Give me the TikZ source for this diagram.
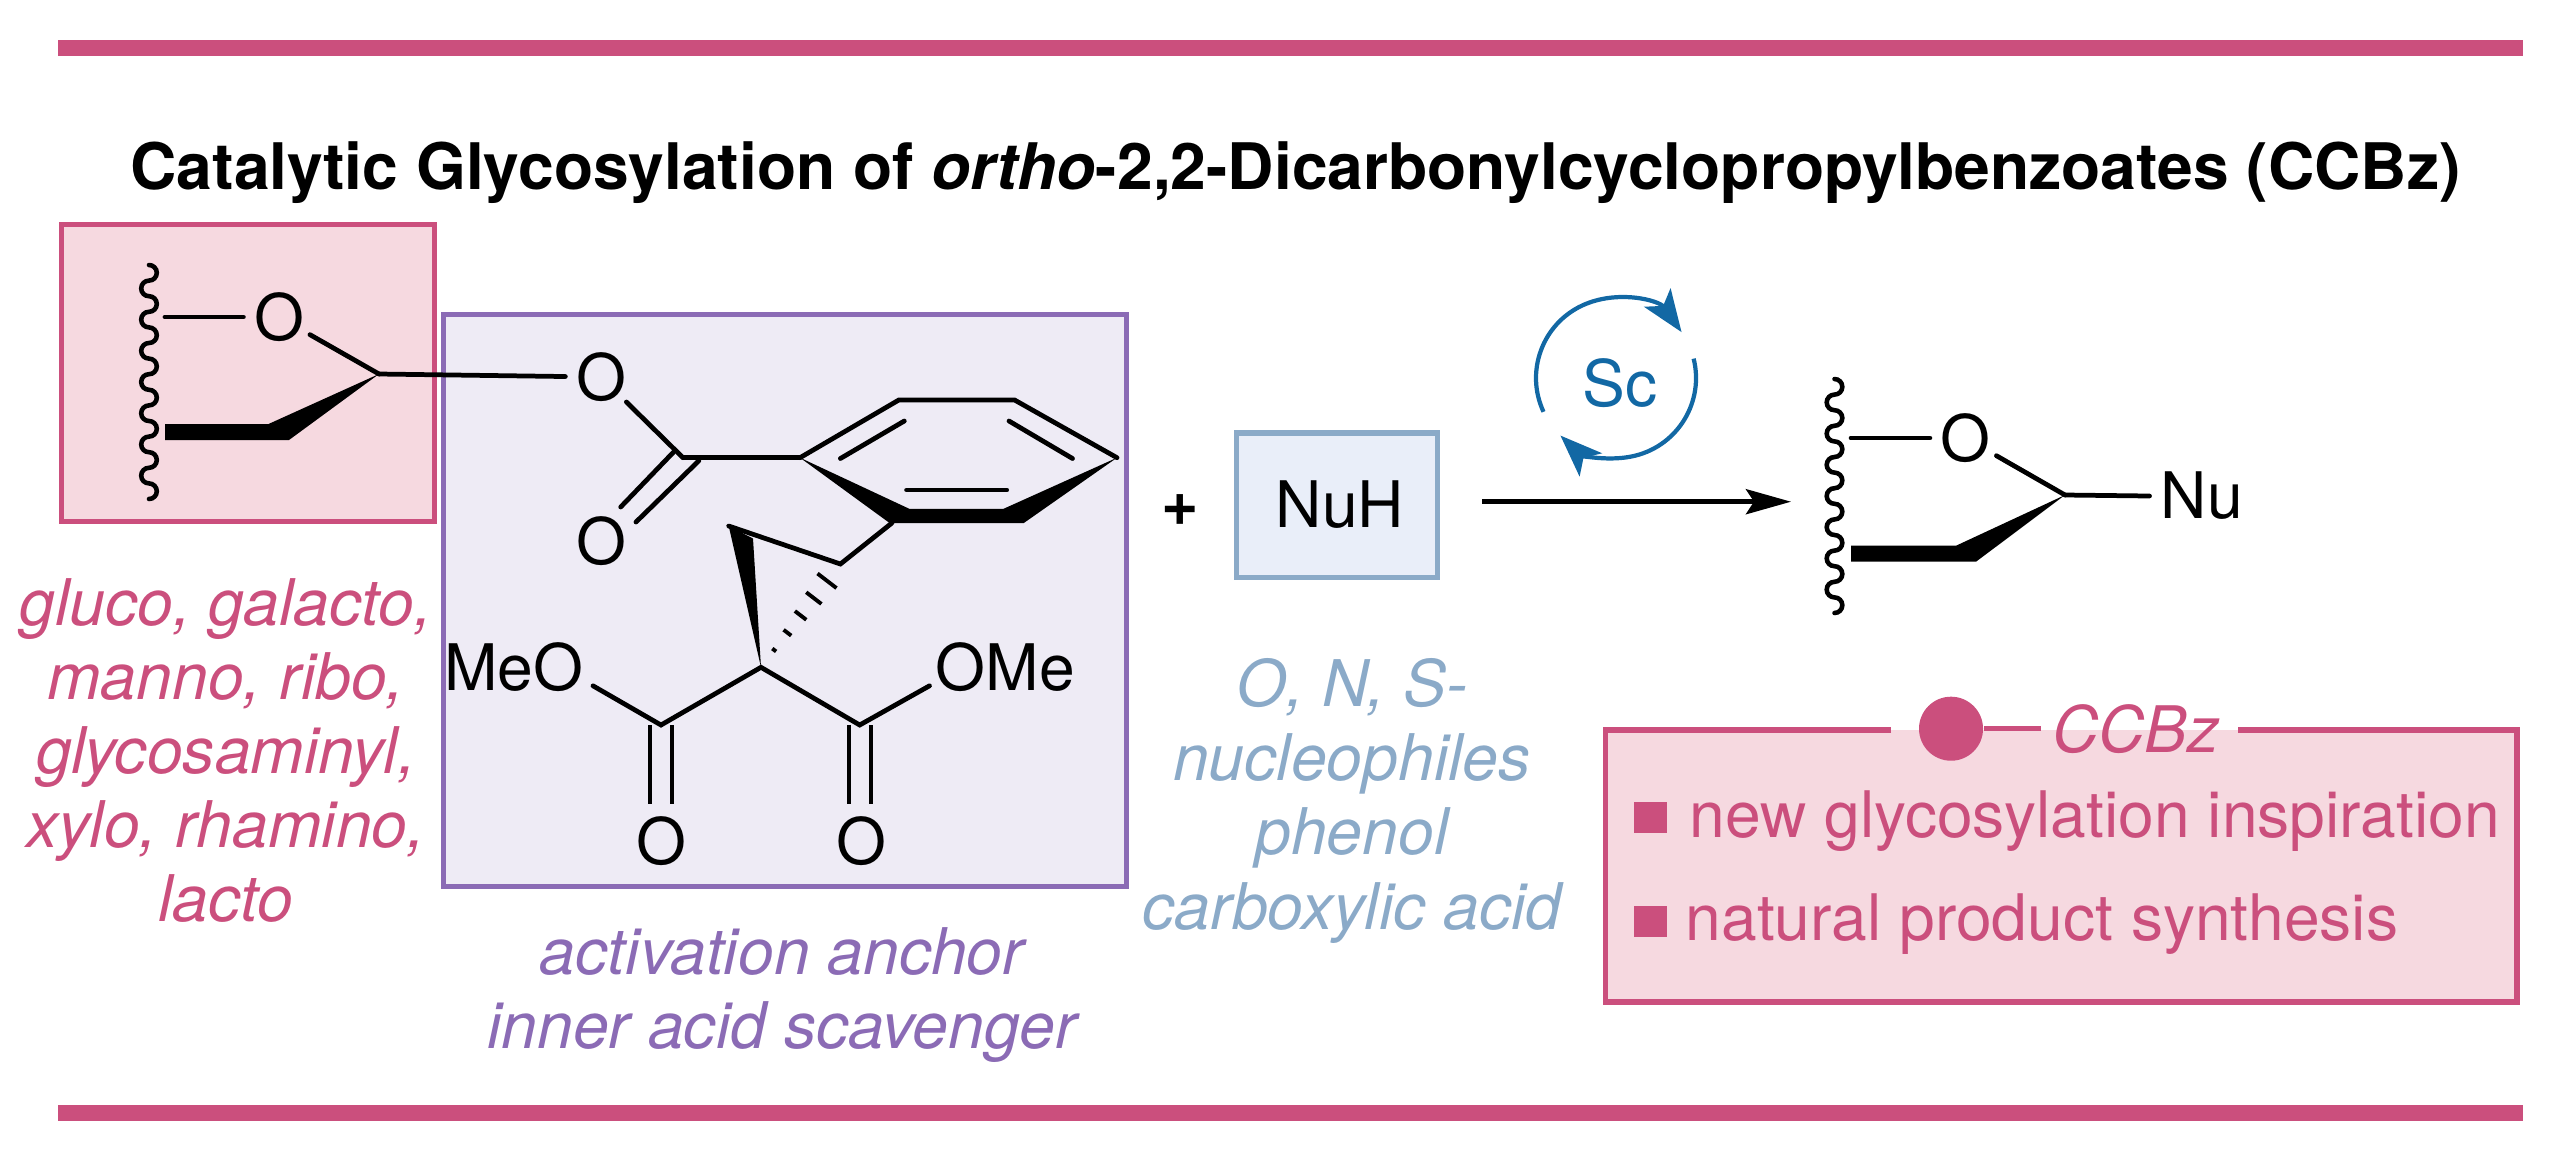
\documentclass[tikz,border=0pt]{standalone}
\usepackage{fontspec}
\setmainfont{TeX Gyre Heros}
\usetikzlibrary{arrows.meta,calc}

\definecolor{ccbzpink}{HTML}{CB4F7D}
\definecolor{ccbzrose}{HTML}{F6D9E0}
\definecolor{anchorviolet}{HTML}{8B6BB5}
\definecolor{anchorlilac}{HTML}{EEEBF5}
\definecolor{nuhblue}{HTML}{8BAAC8}
\definecolor{nuhpale}{HTML}{E9EEF9}
\definecolor{scblue}{HTML}{1268A4}

\tikzset{
	every node/.style={font=\fontsize{18.25}{21}\selectfont,inner sep=0},
	bond/.style={line width=1.35pt,line cap=round},
	wedge/.style={fill=black},
	hashbond/.style={line width=1.1pt},
	wavyline/.style={line width=1.3pt,line cap=round},
	atom/.style={circle,minimum size=0.68cm},
	framebox/.style={line width=1.45pt},
	labeltext/.style={align=center,font=\fontsize{18.3}{21.05}\selectfont\itshape},
	bar/.style={fill=ccbzpink},
	tickbox/.style={fill=ccbzpink,minimum width=0.33cm,minimum height=0.31cm},
	cycletip/.style={line width=1.2pt,draw=scblue,-{Stealth[length=0.42cm,width=0.32cm,inset=0.1cm]}}
}

\newcommand{\wavybond}[1]{\draw [wavyline] (#1)
	foreach \i in {1,...,7} {
		arc [start angle=-90,end angle=90,radius=7.8]
		arc [start angle=-90,end angle=-270,radius=7.8]
	}
	arc [start angle=-90,end angle=90,radius=7.8];}

\begin{document}
\begin{tikzpicture}[x=0.01cm,y=-0.01cm]

\useasboundingbox (0,0) rectangle (2570,1160);

% bars and title
\fill [bar] (57.5,40) rectangle (2522.5,55.5);
\fill [bar] (57.5,1105) rectangle (2522.5,1121);
\node [anchor=base,font=\fontsize{18.25}{21}\selectfont\bfseries] (title) at (1295.5,189)
	{Catalytic Glycosylation of \textit{ortho}-2,2-Dicarbonylcyclopropylbenzoates (CCBz)};

% boxes
\node [framebox,draw=ccbzpink,fill=ccbzrose,minimum width=3.72cm,minimum height=2.96cm] (sugarbox) at (248,373) {};
\node [framebox,draw=anchorviolet,fill=anchorlilac,minimum width=6.83cm,minimum height=5.72cm] (anchorbox) at (785,600.5) {};
\node [framebox,draw=nuhblue,fill=nuhpale,minimum width=2.01cm,minimum height=1.44cm] (nuh) at (1337,505) {\hspace{0.06cm}NuH};

% donor
\node [atom] (o1) at (279,317) {O};
\node [atom] (o2) at (601,377) {O};
\node [atom] (o3) at (601.5,541) {O};
\coordinate (c1) at (379,374);
\coordinate (w1top) at (149,265);
\coordinate (w1o) at (165,317);

\wavybond{w1top}
\path [bond]
	(w1o) edge (o1)
	(c1)
		edge (o1)
		edge (o2)
;
\fill [wedge] (165,424) -- (268.5,424) -- (c1) -- (289,440) -- (165,440) -- cycle;

% ester
\coordinate (c2) at (683,457.7);
\coordinate (r1) at (800,457.7);
\coordinate (r2) at (898.8,400);
\coordinate (r3) at (1014.6,400);
\coordinate (r4) at (1117,457.7);
\coordinate (eqa) at (673.6,452);
\coordinate (eqb) at (620.7,507);
\coordinate (eqc) at (698.8,460.8);
\coordinate (eqd) at (636,522);

\path [bond]
	(o2) edge (c2)
	(c2) edge (r1)
	(eqa) edge (eqb)
	(eqc) edge (eqd)
;

% ring
\draw [bond] (r1) -- (r2) -- (r3) -- (r4);
\fill [wedge] (r1) -- (909.3,508.8) -- (1003.5,508.8) -- (r4) -- (1023.8,523) -- (889.6,523) -- cycle;
\coordinate (in1) at (840.4,458.5);
\coordinate (in2) at (904.3,421);
\coordinate (in3) at (1072.5,458.5);
\coordinate (in4) at (1009,421);
\coordinate (in5) at (906.6,490);
\coordinate (in6) at (1006.7,490);
\path [bond]
	(in1) edge (in2)
	(in3) edge (in4)
	(in5) edge (in6)
;

% cyclopropane
\coordinate (p1) at (891.9,523);
\coordinate (p2) at (840.4,564);
\coordinate (p3) at (728.7,526);
\coordinate (c6) at (761,667.3);
\coordinate (hashend) at (827,580.8);
\draw [bond] (p1) -- (p2) -- (p3);
\fill [wedge] (c6) -- (p3) -- (753,538.5) -- cycle;
\foreach \t in {0.2,0.4,0.6,0.8,1.0}
	\draw [hashbond] ($(c6)!\t!(hashend)+(\t*9.5,\t*7.3)$) -- ($(c6)!\t!(hashend)-(\t*9.5,\t*7.3)$);

% malonate
\node [anchor=base east] (meo) at (584,690) {MeO};
\node [anchor=base west] (ome) at (935,690) {OMe};
\node [atom] (o4) at (661,841.5) {O};
\node [atom] (o5) at (861,841.5) {O};
\coordinate (c7) at (661,725);
\coordinate (c8) at (859.7,725);
\coordinate (meoend) at (593,685.8);
\coordinate (omeend) at (929.5,685.8);
\draw [bond] (meoend) -- (c7) -- (c6) -- (c8) -- (omeend);
\foreach \x in {650,672,849,871}
	\draw [bond,line cap=butt] (\x,725) -- (\x,803.8);

% labels
\node [labeltext,text=ccbzpink,anchor=base] (sugars) at (226,921.7)
	{gluco, galacto,\\manno, ribo,\\glycosaminyl,\\xylo, rhamino,\\lacto};
\node [labeltext,text=anchorviolet,anchor=base] (anchortext) at (782,1048)
	{activation anchor\\inner acid scavenger};
\node [labeltext,text=nuhblue,anchor=base] (nutext) at (1352,929)
	{O, N, S-\\nucleophiles\\phenol\\carboxylic acid};

% reaction
\node [font=\fontsize{18.25}{21}\selectfont\bfseries] (plus) at (1180,510) {+};
\coordinate (rxnstart) at (1482,501.7);
\coordinate (rxnend) at (1791,501.7);
\draw [bond,line cap=butt,-{Stealth[length=0.45cm,width=0.25cm,inset=0.08cm]}] (rxnstart) -- (rxnend);

\node [text=scblue] (sc) at (1620,383) {Sc};
\draw [cycletip] ($(sc)+(-4,-5)+(155:80)$) arc [start angle=155,end angle=325,radius=80];
\draw [cycletip] ($(sc)+(-4,-5)+(-14:80)$) arc [start angle=-14,end angle=134,radius=80];

% product
\node [atom] (o6) at (1965.5,438) {O};
\node [anchor=west] (nu) at (2160,496) {Nu};
\coordinate (c9) at (2065,495);
\coordinate (w2top) at (1834.5,379);
\coordinate (w2o) at (1851,438);
\coordinate (nuend) at (2149.5,496);

\wavybond{w2top}
\path [bond]
	(w2o) edge (o6)
	(c9)
		edge (o6)
		edge (nuend)
;
\fill [wedge] (1851,545.7) -- (1956,545.7) -- (c9) -- (1976,561.7) -- (1851,561.7) -- cycle;

% summary box
\coordinate (gapl) at (1891,730);
\coordinate (gapr) at (2238,730);
\fill [ccbzrose] (1605.7,730) rectangle (2517,1002);
\draw [framebox,draw=ccbzpink] (gapl) -- (1605.7,730) -- (1605.7,1002) -- (2517,1002) -- (2517,730) -- (gapr);
\node [circle,fill=ccbzpink,minimum size=0.64cm] (dot) at (1951,728.7) {};
\node [text=ccbzpink,anchor=west,font=\fontsize{18.25}{21}\selectfont\itshape,inner sep=0.11cm] (ccbz) at (2040.5,728.7) {CCBz};
\draw [framebox,draw=ccbzpink] (dot) -- (ccbz);

\node [tickbox] (tick1) at (1650.5,817.5) {};
\node [tickbox] (tick2) at (1650.5,921) {};
\node [text=ccbzpink,anchor=base west] (point1) at (1689,837.7) {new glycosylation inspiration};
\node [text=ccbzpink,anchor=base west] (point2) at (1685,940.7) {natural product synthesis};

\end{tikzpicture}
\end{document}
